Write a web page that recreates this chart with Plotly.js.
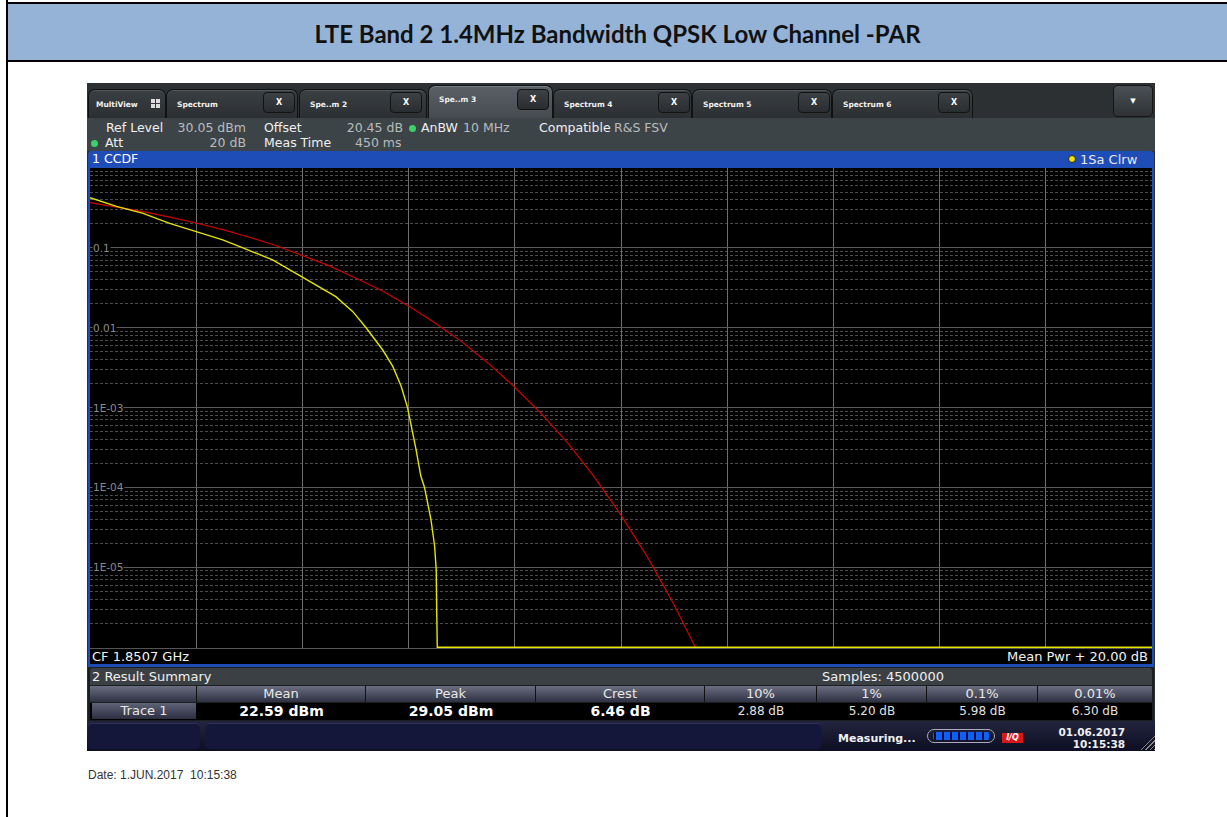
<!DOCTYPE html>
<html>
<head>
<meta charset="utf-8">
<script src="https://cdn.plot.ly/plotly-3.0.1.min.js"></script>
<style>
html,body{margin:0;padding:0;background:#fff;}
#page{position:relative;width:1227px;height:817px;overflow:hidden;background:#fff;font-family:"DejaVu Sans",Verdana,sans-serif;}
.abs{position:absolute;}
.t{position:absolute;white-space:nowrap;line-height:1;}
.tab{position:absolute;top:89px;height:29px;border:1px solid #111;border-bottom:none;border-radius:7px 7px 0 0;background:linear-gradient(#3a3f43,#2b2f32);box-shadow:inset 0 1px 0 #50565b;box-sizing:border-box;}
.tab.act{top:85px;height:33px;background:linear-gradient(#5a6166,#454b50);box-shadow:inset 0 1px 0 #7a8086;}
.tab .lb{position:absolute;left:10px;top:10px;font:bold 7.5px "DejaVu Sans",sans-serif;color:#f2f2f2;}
.tab.act .lb{top:9px;}
.xb{position:absolute;top:2px;width:32px;height:21px;border:1px solid #121212;border-radius:4px;background:linear-gradient(#3c4145,#2a2d30);box-sizing:border-box;color:#fff;font:bold 8px "DejaVu Sans",sans-serif;text-align:center;line-height:19px;}
.hd{position:absolute;top:686px;height:16px;background:linear-gradient(#6a6e80,#2e3142);color:#e8e8e8;font:13px "DejaVu Sans",sans-serif;text-align:center;line-height:16px;border-right:1px solid #111;box-sizing:border-box;}
.vl{position:absolute;top:703px;height:16px;color:#e0e0e0;font:12px "DejaVu Sans",sans-serif;text-align:center;line-height:16px;}
.vl.b{font:bold 14px "DejaVu Sans",sans-serif;color:#fff;}
</style>
</head>
<body>
<div id="page">
  <!-- report frame -->
  <div class="abs" style="left:6px;top:0;width:2px;height:817px;background:#000;"></div>
  <div class="abs" style="left:6px;top:2px;width:1221px;height:2px;background:#000;"></div>
  <div class="abs" style="left:8px;top:4px;width:1219px;height:56px;background:#95b3d7;"></div>
  <div class="abs" style="left:6px;top:60px;width:1221px;height:2px;background:#000;"></div>
  <div class="t" id="rtitle" style="left:8px;width:1219px;top:19px;text-align:center;font:bold 24px 'Lato','Liberation Sans',Arial,sans-serif;color:#111;">LTE Band 2 1.4MHz Bandwidth QPSK Low Channel -PAR</div>

  <!-- instrument screen -->
  <div class="abs" style="left:87px;top:83px;width:1068px;height:668px;background:#2c3033;"></div>
  <!-- tabs -->
  <div class="tab" style="left:88px;width:78px;"><div class="lb" style="left:7px;">MultiView</div>
    <div class="abs" style="left:62px;top:9px;width:4px;height:4px;background:#ddd;"></div>
    <div class="abs" style="left:67px;top:9px;width:4px;height:4px;background:#ddd;"></div>
    <div class="abs" style="left:62px;top:14px;width:4px;height:4px;background:#ddd;"></div>
    <div class="abs" style="left:67px;top:14px;width:4px;height:4px;background:#ddd;"></div>
  </div>
  <div class="tab" style="left:166px;width:132px;"><div class="lb">Spectrum</div><div class="xb" style="left:96px;">X</div></div>
  <div class="tab" style="left:299px;width:128px;"><div class="lb">Spe..m 2</div><div class="xb" style="left:90px;">X</div></div>
  <div class="tab act" style="left:428px;width:125px;"><div class="lb">Spe..m 3</div><div class="xb" style="left:88px;top:3px;">X</div></div>
  <div class="tab" style="left:553px;width:139px;"><div class="lb">Spectrum 4</div><div class="xb" style="left:104px;">X</div></div>
  <div class="tab" style="left:692px;width:140px;"><div class="lb">Spectrum 5</div><div class="xb" style="left:105px;">X</div></div>
  <div class="tab" style="left:832px;width:141px;"><div class="lb">Spectrum 6</div><div class="xb" style="left:105px;">X</div></div>
  <div class="abs" style="left:1113px;top:85px;width:40px;height:32px;border:1px solid #151515;border-radius:5px;background:linear-gradient(#4a5055,#2e3235);box-sizing:border-box;color:#fff;font:bold 7px 'DejaVu Sans';text-align:center;line-height:30px;">&#9660;</div>

  <!-- info area -->
  <div class="abs" style="left:87px;top:118px;width:1068px;height:33px;background:#3d4448;"></div>
  <div class="t" style="left:106px;top:122px;font-size:12.5px;color:#f0f0f0;">Ref Level</div>
  <div class="t" style="left:150px;width:96px;text-align:right;top:122px;font-size:12.5px;color:#b8bcbe;">30.05 dBm</div>
  <div class="t" style="left:264px;top:122px;font-size:12.5px;color:#f0f0f0;">Offset</div>
  <div class="t" style="left:320px;width:83px;text-align:right;top:122px;font-size:12.5px;color:#b8bcbe;">20.45 dB</div>
  <div class="abs" style="left:409px;top:125px;width:7px;height:7px;border-radius:50%;background:#3cd06a;"></div>
  <div class="t" style="left:421px;top:122px;font-size:12.5px;color:#f0f0f0;">AnBW</div>
  <div class="t" style="left:463px;top:122px;font-size:12.5px;color:#b8bcbe;">10 MHz</div>
  <div class="t" style="left:539px;top:122px;font-size:12.5px;color:#f0f0f0;">Compatible</div>
  <div class="t" style="left:614px;top:122px;font-size:12.5px;color:#b8bcbe;">R&amp;S FSV</div>
  <div class="abs" style="left:91px;top:140px;width:7px;height:7px;border-radius:50%;background:#3cd06a;"></div>
  <div class="t" style="left:105px;top:137px;font-size:12.5px;color:#f0f0f0;">Att</div>
  <div class="t" style="left:180px;width:66px;text-align:right;top:137px;font-size:12.5px;color:#b8bcbe;">20 dB</div>
  <div class="t" style="left:264px;top:137px;font-size:12.5px;color:#f0f0f0;">Meas Time</div>
  <div class="t" style="left:355px;top:137px;font-size:12.5px;color:#b8bcbe;">450 ms</div>

  <!-- diagram window -->
  <div class="abs" style="left:88px;top:151px;width:1066px;height:516px;background:#1f4db8;border-radius:4px 4px 0 0;"></div>
  <div class="t" style="left:92px;top:153px;font-size:12.5px;color:#fff;">1 CCDF</div>
  <div class="abs" style="left:1068px;top:155px;width:8px;height:8px;border-radius:50%;background:#f0e000;border:1px solid #222;box-sizing:border-box;"></div>
  <div class="t" style="left:1080px;top:153px;font-size:13px;color:#e8e8e8;">1Sa Clrw</div>
  <div class="abs" style="left:90px;top:168px;width:1062px;height:496px;background:#000;"></div>
  <div id="plot" class="abs" style="left:90px;top:168px;width:1062px;height:480px;"></div>
  <div class="abs" style="left:90px;top:648px;width:1062px;height:1px;background:#555;"></div>
  <div class="t" style="left:92px;top:650px;font-size:13px;color:#f2f2f2;">CF 1.8507 GHz</div>
  <div class="t" style="left:900px;width:248px;text-align:right;top:650px;font-size:13px;color:#f2f2f2;">Mean Pwr + 20.00 dB</div>

  <!-- result summary -->
  <div class="abs" style="left:88px;top:667px;width:1066px;height:54px;background:#1c1f22;"></div>
  <div class="abs" style="left:90px;top:668px;width:1062px;height:17px;background:#3b4044;border-radius:3px 3px 0 0;"></div>
  <div class="t" style="left:92px;top:670px;font-size:13px;color:#f0f0f0;">2 Result Summary</div>
  <div class="t" style="left:800px;width:166px;text-align:center;top:670px;font-size:13px;color:#f0f0f0;">Samples: 4500000</div>
  <div class="abs" style="left:90px;top:703px;width:1062px;height:17px;background:#000;"></div>
  <div class="hd" style="left:90px;width:107px;"></div>
  <div class="hd" style="left:197px;width:169px;">Mean</div>
  <div class="hd" style="left:366px;width:170px;">Peak</div>
  <div class="hd" style="left:536px;width:169px;">Crest</div>
  <div class="hd" style="left:705px;width:112px;">10%</div>
  <div class="hd" style="left:817px;width:110px;">1%</div>
  <div class="hd" style="left:927px;width:111px;">0.1%</div>
  <div class="hd" style="left:1038px;width:114px;border-right:none;">0.01%</div>
  <div class="abs" style="left:92px;top:703px;width:104px;height:16px;background:linear-gradient(#5e6276,#2c2f40);color:#e8e8e8;font:13px 'DejaVu Sans';text-align:center;line-height:16px;">Trace 1</div>
  <div class="vl b" style="left:197px;width:169px;">22.59 dBm</div>
  <div class="vl b" style="left:366px;width:170px;">29.05 dBm</div>
  <div class="vl b" style="left:536px;width:169px;">6.46 dB</div>
  <div class="vl" style="left:705px;width:112px;">2.88 dB</div>
  <div class="vl" style="left:817px;width:110px;">5.20 dB</div>
  <div class="vl" style="left:927px;width:111px;">5.98 dB</div>
  <div class="vl" style="left:1038px;width:114px;">6.30 dB</div>

  <!-- status bar -->
  <div class="abs" style="left:87px;top:721px;width:1068px;height:30px;background:linear-gradient(#23253f,#0d0e22);"></div>
  <div class="abs" style="left:88px;top:723px;width:112px;height:26px;background:#15173a;border-radius:4px;box-shadow:inset 0 1px 0 #2c2f58;"></div>
  <div class="abs" style="left:205px;top:723px;width:616px;height:26px;background:#15173a;border-radius:4px;box-shadow:inset 0 1px 0 #2c2f58;"></div>
  <div class="t" style="left:838px;top:732px;font:bold 11px 'DejaVu Sans';color:#f0f0f0;">Measuring...</div>
  <div class="abs" style="left:927px;top:729px;width:68px;height:14px;border:1px solid #aab;border-radius:7px;box-sizing:border-box;background:repeating-linear-gradient(90deg,#1060ff 0 6px,#0a0c30 6px 8px);background-clip:content-box;padding:2px 5px;"></div>
  <div class="abs" style="left:1002px;top:733px;width:21px;height:10px;background:#d81818;color:#fff;font:bold 8px 'DejaVu Sans';text-align:center;line-height:10px;font-style:italic;">I/Q</div>
  <div class="t" style="left:1040px;width:85px;text-align:right;top:726px;font:bold 10.5px 'DejaVu Sans';color:#f0f0f0;">01.06.2017</div>
  <div class="t" style="left:1040px;width:85px;text-align:right;top:738px;font:bold 10.5px 'DejaVu Sans';color:#f0f0f0;">10:15:38</div>
  <div class="abs" style="left:1140px;top:735px;width:15px;height:15px;background:repeating-linear-gradient(135deg,transparent 0 2px,#888 2px 3px);clip-path:polygon(100% 0,100% 100%,0 100%);"></div>

  <div class="t" style="left:88px;top:768px;font:12px 'Liberation Sans',Arial,sans-serif;color:#333;">Date: 1.JUN.2017&nbsp; 10:15:38</div>
</div>
<script>
// Level above mean power (dB) and CCDF probability
var gaussDb = [0, 0.5, 1, 1.5, 2, 2.5, 3, 3.5, 4, 4.5, 5, 5.5, 6, 6.5, 7, 7.5, 8, 8.5, 9, 9.5, 10, 10.5, 11, 11.4];
var gaussP  = [0.368, 0.326, 0.284, 0.243, 0.205, 0.169, 0.136, 0.107, 0.081, 0.060, 0.042, 0.029, 0.0187, 0.0115, 0.0067, 0.0036, 0.0018, 0.00084, 0.00036, 0.000135, 0.000045, 0.0000134, 0.0000034, 0.000001];
var traceDb = [0, 0.5, 1, 1.5, 2, 2.5, 2.88, 3.44, 4.0, 4.63, 4.95, 5.2, 5.51, 5.70, 5.86, 5.98, 6.14, 6.23, 6.30, 6.42, 6.49, 6.52, 6.53, 6.54, 20];
var traceP  = [0.425, 0.33, 0.27, 0.203, 0.16, 0.126, 0.1, 0.0708, 0.043, 0.0245, 0.0159, 0.01, 0.0053, 0.0033, 0.00185, 0.001, 0.0003, 0.000139, 0.0001, 0.00004, 0.0000185, 0.0000093, 0.0000027, 0.000001, 0.000001];
var yTickVals = [0.1, 0.01, 0.001, 0.0001, 0.00001];
var yTickText = ["0.1", "0.01", "1E-03", "1E-04", "1E-05"];

var data = [
  {x: gaussDb, y: gaussP, type: 'scatter', mode: 'lines', line: {color: '#d00000', width: 1.2}, hoverinfo: 'skip'},
  {x: traceDb, y: traceP, type: 'scatter', mode: 'lines', line: {color: '#e4e400', width: 1.4}, hoverinfo: 'skip'}
];
var ann = yTickVals.map(function(v, i){
  return {xref: 'paper', x: 0.002, yref: 'y', y: Math.log10(v), text: yTickText[i], showarrow: false,
          xanchor: 'left', yanchor: 'middle', bgcolor: '#000', borderpad: 0,
          font: {family: 'DejaVu Sans, sans-serif', size: 10.5, color: '#8a8a8a'}};
});
var layout = {
  width: 1062, height: 480,
  margin: {l: 0, r: 0, t: 0, b: 0, pad: 0},
  paper_bgcolor: '#000', plot_bgcolor: '#000',
  showlegend: false,
  xaxis: {range: [0, 20], dtick: 2, tick0: 0, showgrid: true, gridcolor: '#6e6e6e', gridwidth: 1,
          zeroline: false, showline: false, showticklabels: false, ticks: '', fixedrange: true},
  yaxis: {type: 'log', range: [-6.01, 0], dtick: 1, showgrid: true, gridcolor: '#5a5a5a', gridwidth: 1,
          zeroline: false, showline: false, showticklabels: false, ticks: '',
          minor: {dtick: 'D1', showgrid: true, gridcolor: '#4c4c4c', griddash: '3px,2px', gridwidth: 1, ticks: ''}},
  annotations: ann
};
Plotly.newPlot('plot', data, layout, {staticPlot: true, displayModeBar: false});
</script>
</body>
</html>
